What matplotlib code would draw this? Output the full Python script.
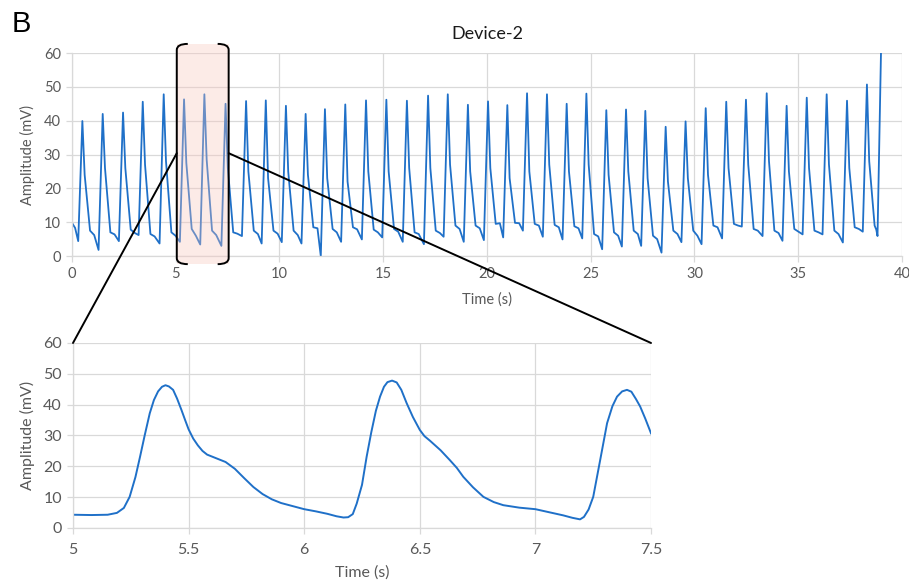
import numpy as np
import matplotlib
matplotlib.use("Agg")
import matplotlib.pyplot as plt
from matplotlib.patches import Rectangle, ConnectionPatch, PathPatch
from matplotlib.path import Path
from matplotlib.transforms import IdentityTransform

plt.rcParams['font.family'] = ['Lato', 'DejaVu Sans']

# ---- full recording: one entry per beat ----
peak_t = [0.50, 1.48, 2.46, 3.41, 4.42, 5.40, 6.38, 7.40, 8.39, 9.34,
          10.31, 11.26, 12.19, 13.17, 14.17, 15.15, 16.14, 17.16, 18.11, 19.08,
          20.05, 20.98, 21.93, 22.89, 23.84, 24.79, 25.75, 26.70, 27.63, 28.61,
          29.57, 30.54, 31.53, 32.48, 33.48, 34.44, 35.41, 36.37, 37.35, 38.31]
peak_mv = [39.9, 42.0, 42.4, 45.6, 47.8, 46.3, 47.8, 45.0, 45.8, 46.0,
           44.4, 42.0, 43.4, 44.8, 46.0, 46.2, 45.9, 47.4, 47.8, 44.7,
           45.7, 44.6, 48.1, 47.8, 45.0, 48.0, 43.1, 43.3, 42.9, 38.2,
           39.8, 43.7, 45.6, 46.2, 48.1, 44.4, 46.8, 47.8, 45.9, 50.7]
# minimum just before each upstroke
trough_mv = [4.4, 1.8, 4.4, 6.2, 3.7, 4.2, 3.4, 3.0, 5.9, 3.7,
             4.1, 3.7, 0.0, 4.2, 4.9, 5.5, 4.2, 3.5, 5.7, 4.2,
             4.7, 5.5, 7.5, 5.7, 4.9, 5.2, 2.0, 2.8, 3.0, 1.0,
             4.1, 3.5, 5.2, 8.7, 5.9, 4.5, 6.4, 6.4, 4.0, 7.2]
# dicrotic shoulder on the downstroke
notch_mv = [24.0, 26.0, 26.0, 27.0, 28.0, 27.5, 28.5, 26.0, 25.0, 23.0,
            25.0, 24.0, 23.0, 22.0, 25.0, 25.0, 26.0, 26.0, 27.0, 25.0,
            26.0, 23.0, 25.0, 27.0, 25.0, 27.0, 24.0, 25.0, 23.0, 22.0,
            23.0, 24.0, 26.0, 27.0, 28.0, 25.0, 26.0, 27.0, 26.0, 28.0]
# diastolic tail
tail_mv = [7.5, 7.0, 7.8, 6.5, 7.0, 8.0, 7.5, 7.0, 7.5, 7.5,
           7.5, 8.5, 8.0, 8.5, 7.8, 8.0, 7.0, 7.5, 9.0, 9.0,
           9.5, 9.8, 9.5, 9.2, 8.8, 6.5, 7.0, 7.5, 6.0, 7.5,
           7.5, 9.0, 9.5, 8.0, 7.5, 8.0, 7.5, 7.5, 8.5, 9.0]
late_mv = [6.2, 6.4, 6.8, 5.8, 6.0, 6.0, 6.2, 6.6, 6.5, 6.6,
           6.2, 8.2, 7.0, 7.9, 7.0, 7.2, 6.5, 6.8, 8.0, 8.2,
           9.7, 9.7, 9.0, 8.5, 8.2, 5.8, 6.0, 6.5, 5.0, 6.5,
           6.0, 8.5, 9.0, 7.5, 6.8, 7.2, 7.0, 6.5, 8.0, 7.8]
start_t = [0.0, 0.15]
start_mv = [9.8, 8.3]
end_t = [38.82, 38.99]
end_mv = [5.9, 61.0]

# ---- detail window 5 - 7.5 s ----
zoom_t = [5.00, 5.08, 5.15, 5.19, 5.22, 5.245, 5.27, 5.29, 5.31, 5.332,
          5.35, 5.368, 5.385, 5.40, 5.415, 5.433, 5.45, 5.469, 5.485, 5.50,
          5.52, 5.54, 5.56, 5.58, 5.62, 5.66, 5.70, 5.74, 5.78, 5.82,
          5.86, 5.90, 5.95, 6.00, 6.05, 6.10, 6.14, 6.17, 6.19, 6.21,
          6.227, 6.25, 6.27, 6.29, 6.31, 6.328, 6.345, 6.36, 6.38, 6.40,
          6.42, 6.443, 6.47, 6.50, 6.52, 6.544, 6.59, 6.63, 6.66, 6.688,
          6.73, 6.775, 6.82, 6.861, 6.93, 7.00, 7.06, 7.12, 7.16, 7.193,
          7.21, 7.23, 7.25, 7.28, 7.31, 7.333, 7.353, 7.375, 7.396, 7.415,
          7.435, 7.453, 7.475, 7.50]
zoom_mv = [4.3, 4.2, 4.3, 4.9, 6.5, 10.1, 16.5, 23.1, 30.0, 37.2,
           41.5, 44.3, 45.8, 46.3, 45.9, 44.8, 42.0, 38.3, 35.0, 32.0,
           29.0, 26.8, 25.0, 23.8, 22.6, 21.4, 19.2, 16.2, 13.3, 11.0,
           9.3, 8.1, 7.1, 6.1, 5.4, 4.6, 3.8, 3.4, 3.5, 4.5,
           7.9, 14.0, 23.1, 31.0, 38.0, 42.6, 45.8, 47.3, 47.8, 47.2,
           44.8, 40.5, 36.0, 31.8, 29.8, 28.3, 25.2, 22.0, 19.5, 16.6,
           13.2, 10.1, 8.4, 7.4, 6.6, 6.1, 5.1, 4.1, 3.3, 2.8,
           3.6, 6.0, 10.1, 22.0, 34.0, 39.5, 42.6, 44.3, 44.8, 44.2,
           41.8, 39.4, 35.5, 30.7]

# beat shape timing relative to the peak (s)
OFF_TROUGH, OFF_NOTCH, OFF_TAIL, OFF_LATE = -0.20, 0.11, 0.37, 0.57

trace_t = list(start_t)
trace_mv = list(start_mv)
for i in range(len(peak_t)):
    tp = peak_t[i]
    nxt = peak_t[i + 1] + OFF_TROUGH if i + 1 < len(peak_t) else end_t[0]
    t_late = min(tp + OFF_LATE, nxt - 0.06)
    trace_t += [tp + OFF_TROUGH, tp, tp + OFF_NOTCH, tp + OFF_TAIL, t_late]
    trace_mv += [trough_mv[i], peak_mv[i], notch_mv[i], tail_mv[i], late_mv[i]]
trace_t += end_t
trace_mv += end_mv

LINE = '#1F70C8'
GRID = '#d9d9d9'
TXT = '#595959'


def style(ax, fs):
    for s in ['top', 'right']:
        ax.spines[s].set_visible(False)
    for s in ['left', 'bottom']:
        ax.spines[s].set_color(GRID)
        ax.spines[s].set_linewidth(0.9)
    ax.grid(True, color=GRID, lw=0.9)
    ax.set_axisbelow(True)
    ax.tick_params(colors=GRID, labelcolor=TXT, labelsize=fs, length=4,
                   width=0.9, pad=4)


fig = plt.figure(figsize=(9.09, 5.84), dpi=100)
ax1 = fig.add_axes([0.0792, 0.5616, 0.9131, 0.3476])
ax2 = fig.add_axes([0.0803, 0.0959, 0.6359, 0.3168])

# top: whole recording
ax1.plot(trace_t, trace_mv, color=LINE, lw=1.3)
ax1.set_xlim(0, 40)
ax1.set_ylim(0, 60)
ax1.set_xticks(range(0, 41, 5))
ax1.set_yticks(range(0, 61, 10))
style(ax1, 10.5)
ax1.set_xlabel('Time (s)', fontsize=10.5, color=TXT, labelpad=8)
ax1.set_ylabel('Amplitude (mV)', fontsize=10.5, color=TXT, labelpad=6)
ax1.set_title('Device-2', fontsize=13, color='#1a1a1a', pad=10)

# bottom: detail
ax2.plot(zoom_t, zoom_mv, color=LINE, lw=1.4)
ax2.set_xlim(5, 7.5)
ax2.set_ylim(0, 60)
ax2.set_xticks([5, 5.5, 6, 6.5, 7, 7.5])
ax2.set_xticklabels(['5', '5.5', '6', '6.5', '7', '7.5'])
ax2.set_yticks(range(0, 61, 10))
style(ax2, 11.5)
ax2.tick_params(axis='x', pad=7)
ax2.set_xlabel('Time (s)', fontsize=11.5, color=TXT, labelpad=6)
ax2.set_ylabel('Amplitude (mV)', fontsize=11.5, color=TXT, labelpad=6)

# highlighted window on the top plot
win_x0, win_x1, win_y0, win_y1 = 5.05, 7.55, -2.4, 62.7
ax1.add_patch(Rectangle((win_x0, win_y0), win_x1 - win_x0, win_y1 - win_y0,
                        facecolor='#F9C6BD', alpha=0.35, edgecolor='none',
                        clip_on=False, zorder=3))

# rounded brackets on both sides of the window (pixel space)
fig.canvas.draw()
(px0, py0), (px1, py1) = ax1.transData.transform([(win_x0, win_y0), (win_x1, win_y1)])
hook, r = 11, 6
verts, codes = [], []
for x, d in [(px0, 1), (px1, -1)]:
    verts += [(x + d * hook, py1), (x, py1), (x, py1 - r),
              (x, py0 + r), (x, py0), (x + d * hook, py0)]
    codes += [Path.MOVETO, Path.CURVE3, Path.CURVE3,
              Path.LINETO, Path.CURVE3, Path.CURVE3]
fig.add_artist(PathPatch(Path(verts, codes), transform=IdentityTransform(),
                         fill=False, edgecolor='black', lw=1.4, zorder=5))

# lines joining the window to the detail plot
for xa, xb in [(win_x0, 5.0), (win_x1, 7.5)]:
    con = ConnectionPatch(xyA=(xa, 30.4), coordsA=ax1.transData,
                          xyB=(xb, 60), coordsB=ax2.transData,
                          color='black', lw=1.4, zorder=6)
    fig.add_artist(con)

fig.text(0.013, 0.945, 'B', fontsize=21, family='Liberation Sans', color='black')

fig.savefig('out.png', dpi=100)
